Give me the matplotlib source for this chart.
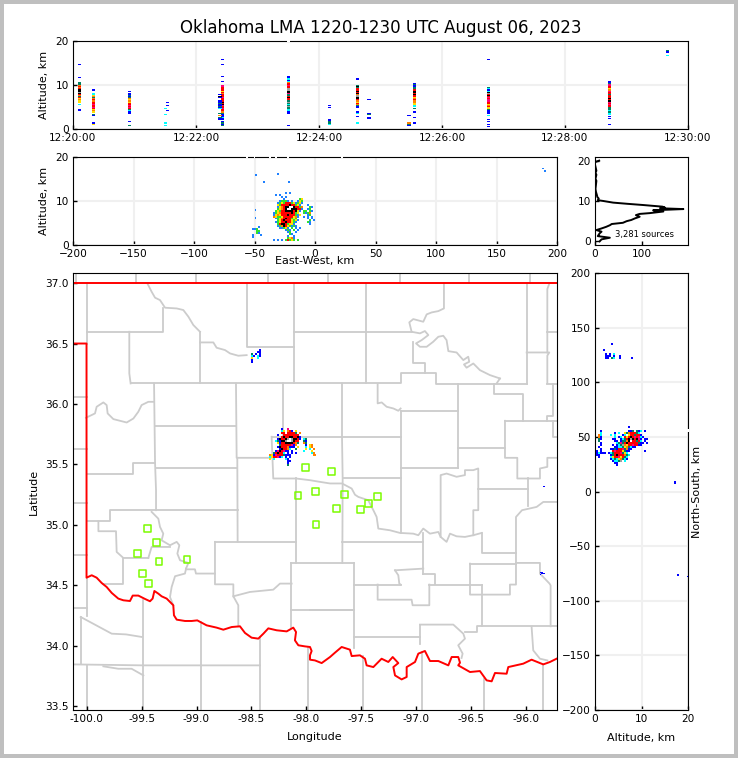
import numpy as np
import matplotlib
matplotlib.use("Agg")
import matplotlib.pyplot as plt
from matplotlib.colors import ListedColormap
from matplotlib.patches import Rectangle
from matplotlib.ticker import FormatStrFormatter

# density colours, one letter per colour in the rasters below
color_codes = "bcgyormkawdl"
color_values = ["#0000ff", "#00ffff", "#008060", "#ffe000", "#ff8000", "#ff0000",
                "#ff0080", "#000000", "#a0a0a0", "#ffffff", "#1e80ff", "#30e030"]
cmap = ListedColormap(color_values)

# time-height panel: seconds after 12:20:00, bottom altitude, letters going up in 0.25 km bins
time_cols = [
    (6.2, 4.0, "bb"), (6.2, 5.5, "c"), (6.2, 6.0, "yyoyrgorkakkroroggg"), (6.2, 11.5, "b"), (6.2, 14.5, "b"),
    (19.8, 1.0, "yb"), (19.8, 3.0, "bg"), (19.8, 3.75, "yoyrmrrmrrorogoycc"), (19.8, 8.75, "b"),
    (55, 0.75, "g"), (55, 1.5, "b"), (55, 3.5, "bbcgrmrmrryoyogbgbb"), (55, 8.5, "b"),
    (90, 0.75, "c.c"), (90, 3.25, "c"), (90, 4.5, "c"), (92, 4.0, "b"), (92, 5.25, "b"), (92, 6.0, "b"),
    (145.7, 0.75, "gbgb.bbcbbbgorrmrrmkrkrrrmrrroryrrrmm"), (145.7, 10.75, "b"), (145.7, 11.75, "b"),
    (145.7, 14.5, "b"), (145.7, 15.75, "b"), (143.4, 2.0, "bbg.o.g...cbgbbgbb..bk.b"),
    (210, 0.75, "b"), (210, 3.5, "bbccggagcgagrrkrggmkkaarrmrrocbcbb"),
    (250, 1.0, "cggb"), (250, 2.0, "b"), (250, 4.75, "b.b"),
    (277.4, 1.25, "c"), (277.4, 2.75, "b"), (277.4, 3.5, "cb"), (277.4, 4.75, "bbgoryorkkaaokrkrrgkg"), (277.4, 11.25, "b"),
    (288.8, 2.25, "bb"), (288.8, 3.25, "gb"), (288.8, 6.5, "b"),
    (333, 1.25, "b"), (333, 2.5, "b"), (333, 3.75, "b"), (333, 4.5, "g"), (333, 5.0, "ccyyooroyrrkrkkrggbbgb"),
    (328, 0.75, "bgo"), (328, 3.0, "b"),
    (405.5, 0.5, "b.b.b.b"), (405.5, 3.0, "c.bbbgyyroyrrmmrmrkrakcbcg"), (405.5, 15.75, "b"),
    (523.2, 1.0, "b"), (523.2, 2.25, "b"), (523.2, 2.75, "b"), (523.2, 3.25, "ccgcgggrrmrmkrkrrrgrrmoyrrmmgbb"),
    (580, 16.5, "c"), (580, 17.25, "bbg"),
]
time_gap_t = [210]

# east-west vs altitude, rows from the top
ew_main = [
    "........d.d............",
    "...d.d.................",
    "......d.d..............",
    ".......d.......ly......",
    ".....dllld.d..dyl......",
    "....dlylrrrlydlyd......",
    "....ylrrrrkrrlyd...d...",
    "....dyorkkwwkrrlo...ld.",
    "....lyorkwwkkkrrd..dl..",
    "...lylrrkkkkrkyd.ll.ld.",
    "..dlyorrrrrkrly..ldlo..",
    "..dyoyrrrkrrrldy...dl..",
    "..oyllyrrrrryod..d.d.d.",
    "...dlyorkrrlyl.....d.d.",
    "....lyrkrrrylyd.....l.d",
    "...dlyrrkrryld.....ld..",
    "....lrkkrlyyd.......d..",
    "....dlokryldld.........",
    ".....ddlyd.l.d.d.......",
    "........dld.l.d........",
    ".........dl..d.........",
    "..........ld...........",
    ".........d..d..........",
    ".........lyod..........",
    "..d.d.d.lrlyl.l........",
]
ew_west = ["...d..", "ddl...", "..ll..", "..ld..", "d...d.", "d....."]
ew_single_x = [-49.6, -31.7, -42.7, -22.0, -50.0, -50.0, 188.0, 189.5]
ew_single_alt = [16.1, 16.4, 14.5, 14.5, 8.1, 6.4, 17.6, 17.1]
ew_gap_x = [-56, -50, -37, -32, -22, 22]

# altitude histogram
hist_alt = [0.0, 0.5, 0.9, 1.3, 1.65, 2.0, 2.4, 2.8, 3.2, 3.6, 4.0, 4.3, 4.6, 5.0, 5.3, 5.7, 6.1, 6.5, 6.8, 7.0,
            7.4, 7.7, 8.0, 8.2, 8.4, 8.6, 9.0, 9.3, 9.6, 10.0, 10.2, 10.6, 11.0, 11.5, 12.3, 13, 14, 15, 15.5, 16,
            16.5, 17, 17.5, 18, 18.5, 19, 19.6, 19.8, 20.0]
hist_count = [10, 14, 32, 6, 8, 10, 14, 3, 14, 24, 32, 36, 60, 68, 78, 86, 96, 88, 96, 118,
              147, 125, 190, 140, 150, 145, 104, 70, 39, 18, 6, 8, 5, 4, 2, 1, 2, 3, 1, 2,
              3, 1, 3, 2, 1, 0, 0, 4, 9]

# map: rasters of sources, top-left lon/lat then rows from the top
map_main = [
    "......b..m..............",
    "......cy.orb.y..........",
    "......rr.rrrrg.o........",
    "....b..rrrrrrrr.........",
    "......rkrrkkrrkb........",
    "....bkrrkawakkrb.cg.....",
    "...cgbkkawwakrr..gb.....",
    "....ybrrkkkkrog..og.....",
    ".....grrrrrmbo....b.yo..",
    "....bkrrrobbb.y...c.yo..",
    ".....bkrroc..g....y.c.o.",
    "...bmkrmbb.b.....c...y..",
    "..grkrrc.b.b.b.......co.",
    "oybmrrrgbbb...........oo",
    "cyrrmbc.b.b.............",
    "y.c.....cb..............",
    ".........bb.............",
    ".........b..............",
    ".........g..............",
]
map_north = ["....b", "...bb", "g.b.b", "cb.cb", "y..c.", "b....", "b...."]
map_south = ["bb..", ".bbb", "b..."]
map_single_lon = [-95.846]
map_single_lat = [35.318]

# north-south vs altitude
ns_main = [
    "................b..........",
    "...........................",
    "..b.............bbg.gbc.b..",
    "..c......b.c..ygorrrgc.....",
    ".oc....c.c...bc.yrrgrrb....",
    ".ob......c.bc.ryrkrmrmcb...",
    ".gb.....bb..bcgrkakrkmb.bb.",
    ".g.......bb.bggokwrrgrc.b..",
    "..b.......cgmgrkrrrrrgbb.b.",
    "..b.....b.bcgaoyrrmrrbb....",
    ".b.......bbccgyogcbb.......",
    "..b....bbgbrrmgobb.........",
    "b.b.....rmrrrygbb.......b..",
    "bcbbb.bcgrrrmgyc...........",
    "bb.....bgrkrrrogc..........",
    ".b.....cyrrmyrgc...........",
    ".......bcgcyogcb...........",
    "........bccga.c............",
    ".........bb................",
    "..........b................",
]
ns_north = ["....b", ".....", ".....", "b....", ".....", ".b.b.c", ".bbb.b..b", ".bb.gc..b.....b"]
ns_single_alt = [16.9, 17.0, 17.6, 19.8]
ns_single_y = [10.0, 8.5, -75.5, -77.0]
ns_gap_y = [56]

# lightning mapping stations
station_lon = [-99.447, -99.365, -99.538, -99.341, -99.086, -99.492, -99.438, -98.077, -97.774, -97.920,
               -97.656, -97.356, -97.438, -97.510, -97.729, -97.913, -98.011]
station_lat = [34.970, 34.854, 34.763, 34.697, 34.713, 34.597, 34.515, 35.243, 35.439, 35.274,
               35.251, 35.235, 35.177, 35.127, 35.135, 35.003, 35.475]

# Oklahoma outline
state_north = [(-100.12, 37.0), (-95.72, 37.0)]
state_south = [
    (-100.12, 36.5), (-100.0, 36.5), (-100.0, 34.564), (-99.953, 34.584), (-99.908, 34.564), (-99.862, 34.520),
    (-99.817, 34.487), (-99.771, 34.438), (-99.711, 34.391), (-99.665, 34.377), (-99.605, 34.371), (-99.580, 34.416),
    (-99.529, 34.416), (-99.468, 34.388), (-99.423, 34.369), (-99.399, 34.391), (-99.383, 34.454), (-99.347, 34.432),
    (-99.317, 34.410), (-99.271, 34.391), (-99.211, 34.336), (-99.205, 34.253), (-99.180, 34.217), (-99.105, 34.206),
    (-99.044, 34.206), (-98.993, 34.211), (-98.908, 34.170), (-98.817, 34.151), (-98.756, 34.134), (-98.680, 34.156),
    (-98.605, 34.162), (-98.559, 34.107), (-98.499, 34.068), (-98.438, 34.060), (-98.392, 34.101), (-98.347, 34.145),
    (-98.271, 34.129), (-98.180, 34.120), (-98.120, 34.151), (-98.095, 34.115), (-98.105, 34.046), (-98.074, 34.005),
    (-98.014, 33.996), (-97.968, 33.991), (-97.953, 33.958), (-97.968, 33.922), (-97.968, 33.886), (-97.923, 33.880),
    (-97.862, 33.858), (-97.786, 33.908), (-97.741, 33.944), (-97.680, 33.991), (-97.605, 33.969), (-97.589, 33.916),
    (-97.514, 33.922), (-97.468, 33.894), (-97.453, 33.839), (-97.392, 33.825), (-97.317, 33.894), (-97.256, 33.867),
    (-97.216, 33.908), (-97.165, 33.858), (-97.210, 33.825), (-97.195, 33.756), (-97.135, 33.723), (-97.089, 33.743),
    (-97.089, 33.825), (-97.013, 33.867), (-96.983, 33.936), (-96.923, 33.958), (-96.877, 33.875), (-96.801, 33.875),
    (-96.710, 33.839), (-96.680, 33.908), (-96.620, 33.908), (-96.604, 33.861), (-96.620, 33.839), (-96.513, 33.784),
    (-96.423, 33.792), (-96.362, 33.715), (-96.316, 33.707), (-96.286, 33.776), (-96.180, 33.770), (-96.165, 33.825),
    (-96.029, 33.853), (-95.953, 33.886), (-95.847, 33.847), (-95.786, 33.867), (-95.726, 33.894),
]

# county lines
kansas_stub_lons = [-100.095, -99.55, -99.005, -98.35, -97.805, -97.15, -96.52, -95.97]
county_lines = [
    [(-100.0, 37.0), (-100.0, 36.5)],
    [(-100.0, 36.597), (-99.302, 36.597), (-99.302, 36.796)],
    [(-99.447, 36.997), (-99.408, 36.928), (-99.377, 36.879), (-99.332, 36.859), (-99.286, 36.796), (-99.180, 36.790),
     (-99.120, 36.777), (-99.074, 36.722), (-99.029, 36.653), (-98.968, 36.597)],
    [(-98.968, 36.597), (-98.968, 36.17)],
    [(-98.968, 36.509), (-98.847, 36.509), (-98.817, 36.465), (-98.741, 36.446), (-98.695, 36.418), (-98.620, 36.399),
     (-98.544, 36.404)],
    [(-98.544, 37.0), (-98.544, 36.468), (-98.114, 36.468)],
    [(-98.114, 37.0), (-98.114, 36.17)],
    [(-98.114, 36.597), (-97.044, 36.597)],
    [(-99.611, 36.597), (-99.611, 36.253), (-99.599, 36.17)],
    [(-99.599, 36.17), (-97.144, 36.17), (-97.144, 36.253), (-96.823, 36.253), (-96.823, 36.162), (-95.998, 36.162)],
    [(-99.386, 36.17), (-99.377, 35.514), (-99.368, 35.287), (-99.368, 35.122)],
    [(-99.377, 35.814), (-98.641, 35.814)],
    [(-98.641, 36.17), (-98.635, 35.555), (-98.302, 35.555)],
    [(-99.368, 35.467), (-98.629, 35.467)],
    [(-98.629, 35.555), (-98.626, 34.86)],
    [(-98.217, 36.17), (-98.217, 35.729)],
    [(-98.317, 35.729), (-97.144, 35.729)],
    [(-98.317, 35.729), (-98.302, 35.384), (-98.095, 35.384), (-97.968, 35.37), (-97.877, 35.356), (-97.786, 35.343),
     (-97.677, 35.343), (-97.589, 35.301), (-97.559, 35.25), (-97.529, 35.232), (-97.438, 35.204), (-97.392, 35.122),
     (-97.362, 35.066), (-97.347, 34.970), (-97.241, 34.956), (-97.150, 34.934), (-97.029, 34.928), (-96.983, 34.915),
     (-96.938, 34.970), (-96.877, 34.928), (-96.801, 34.942), (-96.780, 34.901), (-96.726, 34.860), (-96.695, 34.928),
     (-96.635, 34.906), (-96.559, 34.901), (-96.483, 34.915), (-96.407, 34.934)],
    [(-98.095, 35.384), (-98.095, 34.686)],
    [(-97.677, 36.17), (-97.677, 35.729), (-97.671, 35.384), (-97.674, 34.686)],
    [(-97.671, 35.384), (-97.144, 35.384)],
    [(-97.144, 35.944), (-97.144, 34.934)],
    [(-97.353, 36.162), (-97.353, 36.005), (-97.316, 36.013), (-97.271, 35.977), (-97.210, 35.963), (-97.165, 35.944),
     (-97.144, 35.963)],
    [(-97.144, 35.944), (-96.62, 35.944)],
    [(-96.62, 36.162), (-96.62, 35.467)],
    [(-97.144, 35.467), (-96.62, 35.467)],
    [(-96.78, 34.901), (-96.78, 35.412), (-96.726, 35.425), (-96.635, 35.398), (-96.559, 35.412), (-96.559, 35.453),
     (-96.483, 35.453), (-96.438, 35.467), (-96.438, 35.122), (-96.483, 35.122), (-96.483, 34.915)],
    [(-96.62, 35.64), (-96.195, 35.64)],
    [(-96.298, 36.162), (-96.298, 36.079), (-96.029, 36.079), (-96.029, 35.861)],
    [(-96.195, 35.861), (-95.72, 35.861)],
    [(-96.195, 35.861), (-96.195, 35.555), (-96.083, 35.555), (-96.083, 35.384), (-95.877, 35.384), (-95.877, 35.467),
     (-95.81, 35.48), (-95.81, 35.555), (-95.72, 35.555)],
    [(-96.438, 35.296), (-95.983, 35.296)],
    [(-95.983, 35.384), (-95.983, 35.16)],
    [(-96.095, 34.686), (-96.095, 35.066), (-96.04, 35.122), (-95.907, 35.149), (-95.847, 35.19), (-95.726, 35.19)],
    [(-95.998, 37.0), (-95.998, 36.162)],
    [(-95.998, 36.426), (-95.792, 36.426), (-95.81, 36.40), (-95.81, 36.17)],
    [(-95.79, 37.0), (-95.81, 36.95), (-95.81, 36.426)],
    [(-95.81, 36.597), (-95.72, 36.597)],
    [(-95.81, 36.165), (-95.72, 36.165)],
    [(-95.756, 36.165), (-95.756, 35.9), (-95.81, 35.9), (-95.81, 35.861)],
    [(-95.762, 35.861), (-95.762, 35.729), (-95.72, 35.729)],
    [(-96.241, 36.211), (-96.271, 36.17)],
    [(-96.750, 37.0), (-96.750, 36.790), (-96.801, 36.768), (-96.862, 36.757), (-96.907, 36.741), (-96.938, 36.680),
     (-97.029, 36.702), (-97.065, 36.675), (-97.044, 36.597), (-96.968, 36.584), (-96.923, 36.603), (-96.892, 36.570),
     (-96.953, 36.528), (-97.004, 36.501), (-96.968, 36.473), (-96.907, 36.473), (-96.847, 36.515), (-96.801, 36.556),
     (-96.756, 36.564), (-96.726, 36.528), (-96.710, 36.437), (-96.635, 36.426), (-96.574, 36.363), (-96.529, 36.391),
     (-96.520, 36.349), (-96.568, 36.327), (-96.544, 36.300), (-96.483, 36.335), (-96.423, 36.280), (-96.332, 36.239),
     (-96.241, 36.211)],
    [(-97.462, 37.0), (-97.462, 36.17)],
    [(-97.035, 36.509), (-97.035, 36.335), (-96.923, 36.335), (-96.923, 36.253)],
    [(-100.12, 36.06), (-100.0, 36.06)],
    [(-100.12, 35.624), (-100.0, 35.624)],
    [(-100.005, 35.886), (-99.923, 35.922), (-99.908, 35.977), (-99.847, 36.013), (-99.817, 35.991), (-99.808, 35.922),
     (-99.756, 35.875), (-99.635, 35.847), (-99.574, 35.880), (-99.529, 35.936), (-99.499, 35.991), (-99.438, 36.018),
     (-99.386, 36.018)],
    [(-100.0, 35.425), (-99.58, 35.425), (-99.58, 35.514), (-99.377, 35.514)],
    [(-100.12, 35.185), (-100.0, 35.185)],
    [(-100.12, 34.749), (-100.0, 34.749)],
    [(-100.12, 34.316), (-100.0, 34.316)],
    [(-100.0, 35.031), (-99.786, 35.031), (-99.786, 35.122), (-99.408, 35.122), (-98.626, 35.122)],
    [(-99.892, 35.031), (-99.892, 34.948), (-99.732, 34.948), (-99.726, 34.777), (-99.665, 34.727), (-99.438, 34.727)],
    [(-99.671, 34.727), (-99.671, 34.509), (-99.847, 34.509)],
    [(-99.408, 35.108), (-99.347, 35.052), (-99.332, 34.984), (-99.302, 34.928), (-99.317, 34.873), (-99.241, 34.832),
     (-99.18, 34.860), (-99.156, 34.832), (-99.174, 34.763), (-99.15, 34.708), (-99.074, 34.686), (-99.095, 34.639)],
    [(-99.438, 34.727), (-99.408, 34.818), (-99.241, 34.818)],
    [(-99.095, 34.633), (-99.014, 34.633), (-99.005, 34.598), (-98.832, 34.598)],
    [(-99.095, 34.639), (-99.105, 34.598), (-99.195, 34.576), (-99.226, 34.487), (-99.241, 34.404), (-99.211, 34.336)],
    [(-98.832, 34.86), (-98.832, 34.509), (-98.665, 34.509), (-98.665, 34.41), (-98.62, 34.336), (-98.62, 34.162)],
    [(-98.665, 34.41), (-98.514, 34.446), (-98.302, 34.465), (-98.241, 34.515), (-98.135, 34.515)],
    [(-98.832, 34.86), (-98.095, 34.86)],
    [(-97.674, 34.86), (-96.938, 34.86)],
    [(-98.144, 34.686), (-97.565, 34.686)],
    [(-98.144, 34.686), (-98.144, 34.15)],
    [(-98.144, 34.294), (-97.565, 34.294)],
    [(-97.565, 34.686), (-97.565, 33.98)],
    [(-99.483, 34.377), (-99.483, 33.47)],
    [(-98.959, 34.2), (-98.959, 33.47)],
    [(-98.423, 34.07), (-98.423, 33.47)],
    [(-97.983, 33.99), (-97.983, 33.47)],
    [(-100.0, 34.56), (-100.0, 34.25)],
    [(-100.053, 34.239), (-100.053, 33.847)],
    [(-100.053, 34.239), (-99.771, 34.101), (-99.64, 34.095), (-99.499, 34.074)],
    [(-100.12, 33.847), (-99.483, 33.839), (-98.423, 33.839)],
    [(-100.0, 33.839), (-100.0, 33.47)],
    [(-99.847, 33.831), (-99.711, 33.811), (-99.59, 33.811), (-99.483, 33.756)],
    [(-96.938, 34.934), (-96.938, 34.597)],
    [(-97.565, 34.507), (-97.144, 34.507)],
    [(-97.353, 34.507), (-97.353, 34.382), (-97.044, 34.382), (-97.035, 34.336), (-96.883, 34.336), (-96.883, 34.507)],
    [(-96.883, 34.507), (-96.407, 34.507)],
    [(-97.195, 34.625), (-96.938, 34.639)],
    [(-97.195, 34.625), (-97.165, 34.584), (-97.156, 34.515), (-97.144, 34.507)],
    [(-96.938, 34.598), (-96.832, 34.598), (-96.832, 34.515)],
    [(-96.513, 34.68), (-96.513, 34.424), (-96.15, 34.424), (-96.15, 34.507), (-96.095, 34.507), (-96.095, 34.686),
     (-95.877, 34.686), (-95.877, 34.598), (-95.79, 34.515), (-95.78, 34.5), (-95.78, 34.162)],
    [(-96.513, 34.68), (-96.095, 34.68)],
    [(-96.407, 34.934), (-96.407, 34.771), (-96.095, 34.771)],
    [(-96.407, 34.507), (-96.407, 34.162)],
    [(-97.968, 34.294), (-97.565, 34.294)],
    [(-97.565, 34.074), (-96.968, 34.074)],
    [(-96.968, 34.176), (-96.968, 34.019)],
    [(-96.968, 34.176), (-96.665, 34.176), (-96.574, 34.101), (-96.559, 34.06), (-96.62, 34.005), (-96.58, 33.936),
     (-96.59, 33.9)],
    [(-96.559, 34.115), (-96.453, 34.115), (-96.453, 34.162), (-95.72, 34.162)],
    [(-95.953, 34.157), (-95.938, 33.963), (-95.877, 33.894), (-95.81, 33.88)],
    [(-97.489, 33.92), (-97.489, 33.47)],
    [(-96.947, 33.95), (-96.947, 33.47)],
    [(-96.383, 33.73), (-96.383, 33.47)],
    [(-95.853, 33.85), (-95.853, 33.47)],
]

time_ticks = [0, 120, 240, 360, 480, 600]
time_labels = ["12:20:00", "12:22:00", "12:24:00", "12:26:00", "12:28:00", "12:30:00"]

FIG_W, FIG_H = 738, 758
GRID = "#f0f0f0"
TICK_SIZE = 7.6
LABEL_SIZE = 8


def make_axes(left, top, right, bottom):
    return fig.add_axes([left / FIG_W, 1 - bottom / FIG_H, (right - left) / FIG_W, (bottom - top) / FIG_H])


def draw_raster(ax, rows, x0, dx, y_top, dy):
    # rows go from the top, '.' is an empty cell
    ncol = max(len(r) for r in rows)
    grid = np.full((len(rows), ncol), np.nan)
    for i, row in enumerate(rows):
        for j, ch in enumerate(row):
            if ch in color_codes:
                grid[i, j] = color_codes.index(ch)
    xs = x0 + dx * np.arange(ncol + 1)
    ys = y_top - dy * np.arange(len(rows) + 1)
    ax.pcolormesh(xs, ys, np.ma.masked_invalid(grid), cmap=cmap, vmin=-0.5, vmax=len(color_codes) - 0.5,
                  antialiased=False, linewidth=0, zorder=3)


def style(ax, grid=True):
    ax.tick_params(direction="in", length=3, width=1, labelsize=TICK_SIZE, top=False, right=False, pad=3)
    if grid:
        ax.grid(True, color=GRID, linewidth=1.5, zorder=0)
        ax.set_axisbelow(True)


def spine_gap(ax, xs, ys):
    # white source marks sitting on the frame
    ax.plot(xs, ys, color="white", linewidth=1.5, solid_capstyle="butt", clip_on=False, zorder=5)


fig = plt.figure(figsize=(FIG_W / 100, FIG_H / 100), dpi=100, facecolor="#bfbfbf")
fig.add_artist(Rectangle((4 / FIG_W, 4 / FIG_H), 729.5 / FIG_W, 750 / FIG_H, transform=fig.transFigure,
                         facecolor="white", edgecolor="none", zorder=-10))

# time vs altitude
ax_time = make_axes(73, 41, 688, 129)
style(ax_time)
for t, bottom, codes in time_cols:
    draw_raster(ax_time, list(codes[::-1]), t - 1.7, 3.4, bottom + 0.25 * len(codes), 0.25)
for t in time_gap_t:
    spine_gap(ax_time, [t - 1.5, t + 1.5], [20, 20])
ax_time.set_xlim(0, 600)
ax_time.set_ylim(0, 20)
ax_time.set_xticks(time_ticks)
ax_time.set_xticklabels(time_labels)
ax_time.set_yticks([0, 10, 20])
ax_time.set_ylabel("Altitude, km", fontsize=LABEL_SIZE, labelpad=5)
ax_time.set_title("Oklahoma LMA 1220-1230 UTC August 06, 2023", fontsize=12, pad=5.5)

# east-west vs altitude
ax_ew = make_axes(73, 157, 557, 245)
style(ax_ew)
draw_raster(ax_ew, ew_main, -37.8, 1.65, 12.1, 0.45)
draw_raster(ax_ew, ew_west, -52.3, 1.65, 4.3, 0.45)
for x, z in zip(ew_single_x, ew_single_alt):
    draw_raster(ax_ew, ["d"], x, 1.65, z, 0.4)
for x in ew_gap_x:
    spine_gap(ax_ew, [x - 0.8, x + 0.8], [20, 20])
ax_ew.set_xlim(-200, 200)
ax_ew.set_ylim(0, 20)
ax_ew.set_xticks(np.arange(-200, 201, 50))
ax_ew.set_yticks([0, 10, 20])
ax_ew.set_xlabel("East-West, km", fontsize=LABEL_SIZE, labelpad=-2)
ax_ew.set_ylabel("Altitude, km", fontsize=LABEL_SIZE, labelpad=5)

# altitude histogram
ax_hist = make_axes(595, 157, 688, 245)
style(ax_hist, grid=False)
ax_hist.plot(hist_count, hist_alt, color="black", linewidth=1.4)
ax_hist.set_xlim(0, 200)
ax_hist.set_ylim(-0.9, 20.9)
ax_hist.set_xticks([0, 100])
ax_hist.set_yticks([0, 10, 20])
ax_hist.text(0.85, 0.125, "3,281 sources", transform=ax_hist.transAxes, ha="right", va="center", fontsize=6)

# plan view map
ax_map = make_axes(73, 273, 557, 710)
style(ax_map, grid=False)
for lon in kansas_stub_lons:
    ax_map.plot([lon, lon], [37.0, 37.08], color="#cccccc", linewidth=1.3, zorder=1)
for line in county_lines:
    lons, lats = zip(*line)
    ax_map.plot(lons, lats, color="#cccccc", linewidth=1.3, zorder=1)
for line in (state_north, state_south):
    lons, lats = zip(*line)
    ax_map.plot(lons, lats, color="#ff0000", linewidth=1.4, zorder=2)
ax_map.scatter(station_lon, station_lat, marker="s", s=24, facecolors="none", edgecolors="#7cfc00", linewidths=1.1,
               zorder=2.5)
draw_raster(ax_map, map_main, -98.341, 0.018, 35.80, 0.0165)
draw_raster(ax_map, map_north, -98.505, 0.018, 36.451, 0.0165)
draw_raster(ax_map, map_south, -95.877, 0.012, 34.61, 0.008)
for lon, lat in zip(map_single_lon, map_single_lat):
    draw_raster(ax_map, ["b"], lon, 0.018, lat, 0.008)
ax_map.set_xlim(-100.123, -95.722)
ax_map.set_ylim(33.47, 37.083)
ax_map.set_xticks(np.arange(-100, -95.9, 0.5))
ax_map.set_yticks(np.arange(33.5, 37.1, 0.5))
ax_map.xaxis.set_major_formatter(FormatStrFormatter("%.1f"))
ax_map.yaxis.set_major_formatter(FormatStrFormatter("%.1f"))
ax_map.set_xlabel("Longitude", fontsize=LABEL_SIZE, labelpad=6)
ax_map.set_ylabel("Latitude", fontsize=LABEL_SIZE, labelpad=5)

# altitude vs north-south
ax_ns = make_axes(595, 273, 688, 710)
style(ax_ns)
draw_raster(ax_ns, ns_main, 0.2, 0.43, 60, 1.83)
draw_raster(ax_ns, ns_north, 1.79, 0.43, 136, 1.83)
for z, y in zip(ns_single_alt, ns_single_y):
    draw_raster(ax_ns, ["b"], z, 0.43, y, 1.4)
for y in ns_gap_y:
    spine_gap(ax_ns, [20, 20], [y - 1.2, y + 1.2])
ax_ns.set_xlim(0, 20)
ax_ns.set_ylim(-200, 200)
ax_ns.set_xticks([0, 10, 20])
ax_ns.set_yticks(np.arange(-200, 201, 50))
ax_ns.set_xlabel("Altitude, km", fontsize=LABEL_SIZE, labelpad=6)
ax_ns.text(1.1, 0.5, "North-South, km", transform=ax_ns.transAxes, rotation=90, ha="center", va="center",
           fontsize=LABEL_SIZE)

fig.savefig("out.png", dpi=100, facecolor=fig.get_facecolor())
